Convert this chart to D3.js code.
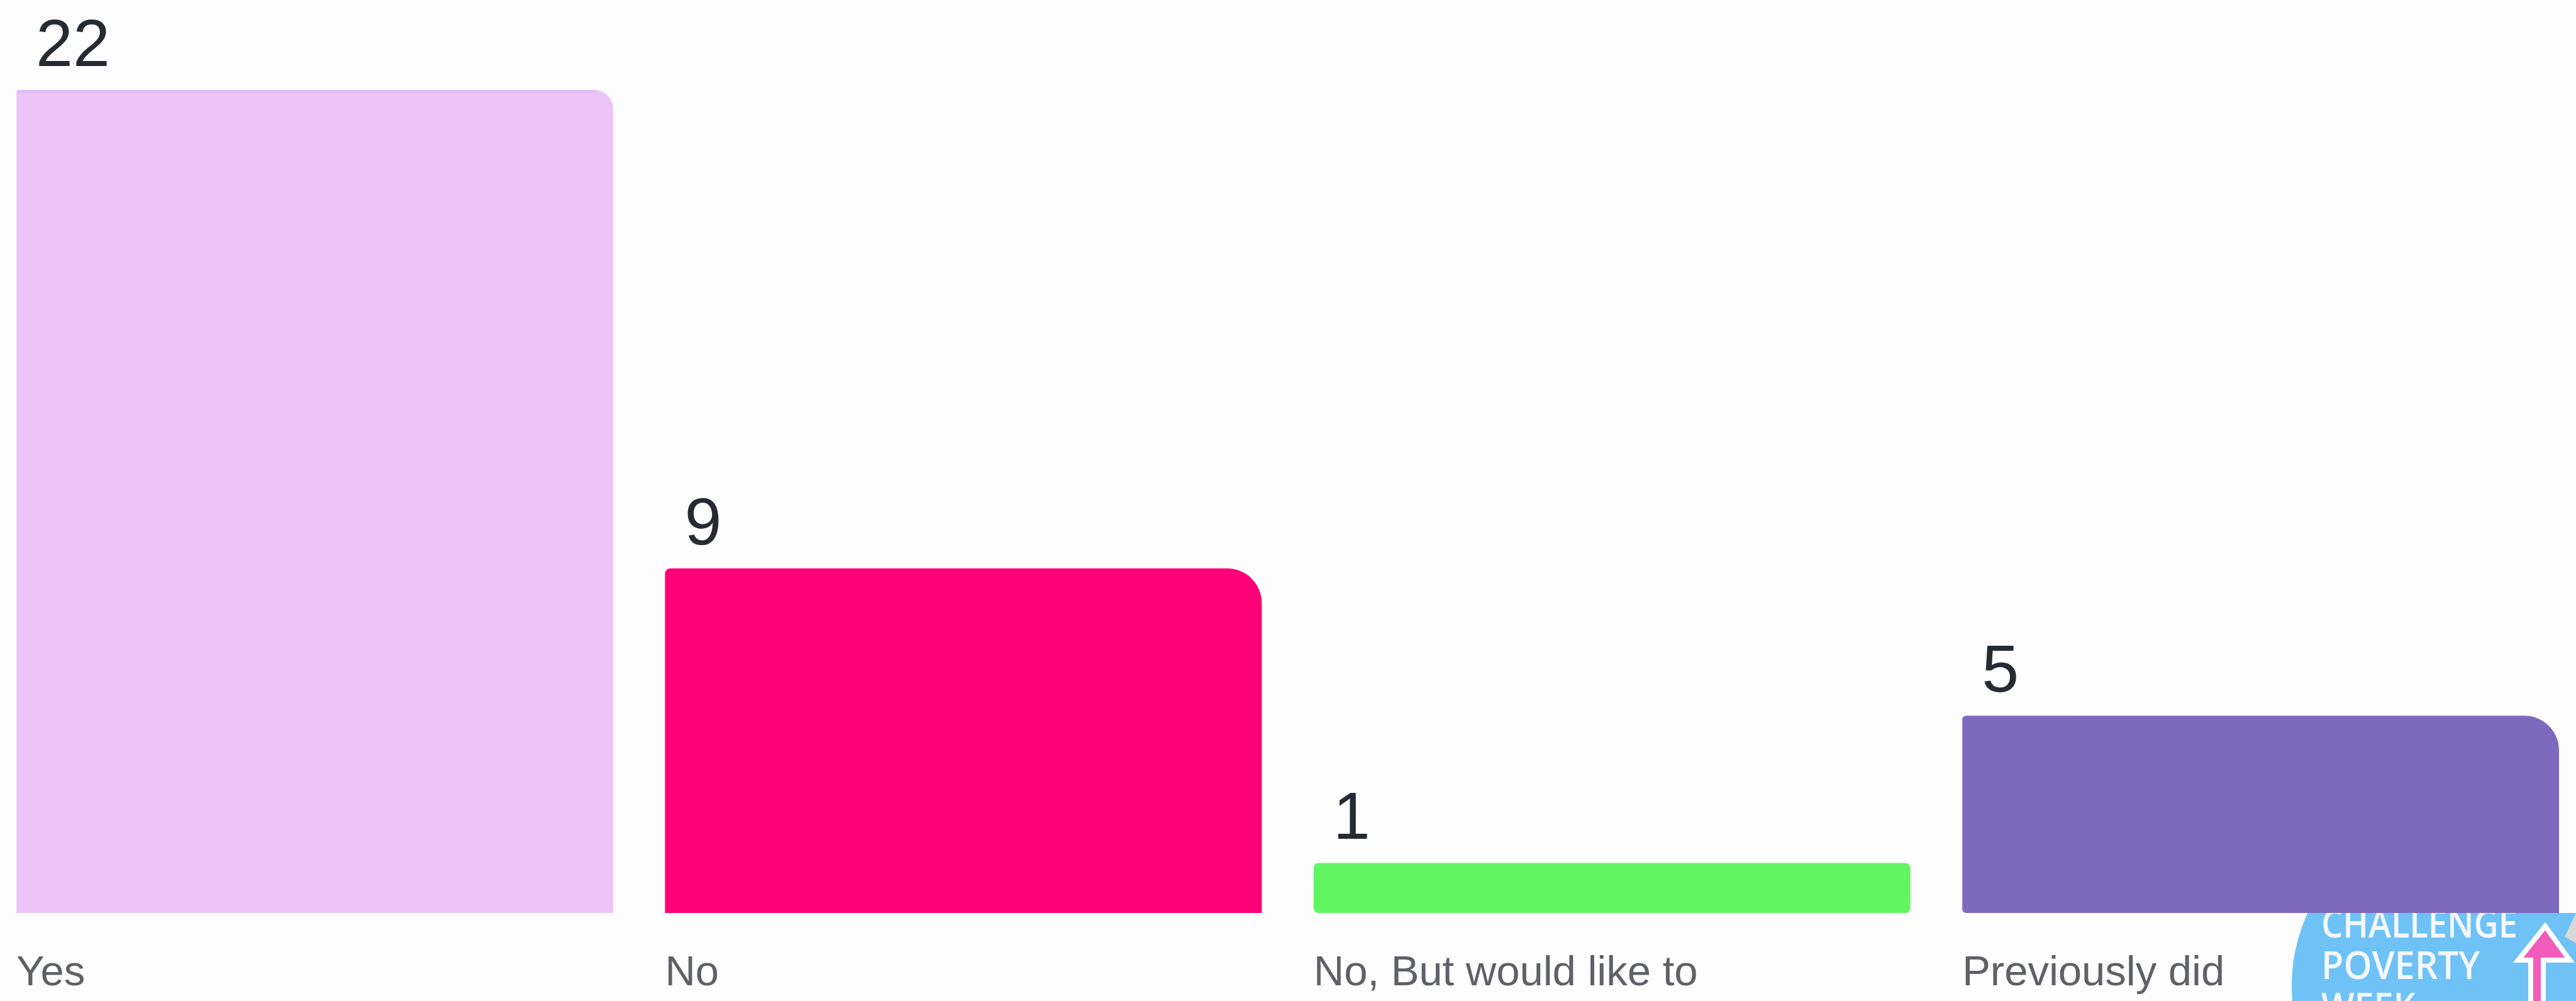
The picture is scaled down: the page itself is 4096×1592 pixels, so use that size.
<!DOCTYPE html>
<html><head><meta charset="utf-8">
<script src="https://cdn.jsdelivr.net/npm/d3@7"></script>
<style>html,body{margin:0;padding:0;background:#fdfdfd;overflow:hidden}</style>
</head><body><svg id="c" width="4096" height="1592"></svg>
<script>
// ---- data ----
const categories = ["Yes", "No", "No, But would like to", "Previously did"];
const values = [22, 9, 1, 5];
const barColors = ["#ECC4F8", "#FF0078", "#62F562", "#7F69BE"];
const logoLines = ["CHALLENGE", "POVERTY", "WEEK"];

// ---- layout ----
const W = 4096, H = 1592;
const svg = d3.select("#c");
svg.append("rect").attr("width", W).attr("height", H).attr("fill", "#fdfdfd");

const x = d3.scaleBand().domain(categories).range([26, 4069]).paddingInner(0.08).paddingOuter(0);
const y = d3.scaleLinear().domain([0, 22]).range([1431, 143]);
const baseline = 1452;

// corner radii [tl, tr, br, bl]
const radii = [[4, 30, 0, 0], [8, 55, 0, 0], [8, 8, 8, 8], [6, 55, 0, 6]];

function barPath(x0, y0, w, h, r) {
  const [tl, tr, br, bl] = r.map(v => Math.min(v, h / 2, w / 2));
  return `M${x0 + tl},${y0}H${x0 + w - tr}` +
    (tr ? `A${tr},${tr} 0 0 1 ${x0 + w},${y0 + tr}` : "") +
    `V${y0 + h - br}` +
    (br ? `A${br},${br} 0 0 1 ${x0 + w - br},${y0 + h}` : "") +
    `H${x0 + bl}` +
    (bl ? `A${bl},${bl} 0 0 1 ${x0},${y0 + h - bl}` : "") +
    `V${y0 + tl}` +
    (tl ? `A${tl},${tl} 0 0 1 ${x0 + tl},${y0}` : "") + "Z";
}

// ---- logo (behind, visible below bars) ----
const defs = svg.append("defs");
defs.append("clipPath").attr("id", "logoClip").append("rect")
  .attr("x", 3500).attr("y", baseline).attr("width", 700).attr("height", 200);
const logo = svg.append("g").attr("clip-path", "url(#logoClip)");
logo.append("circle").attr("cx", 3918).attr("cy", 1567).attr("r", 274).attr("fill", "#6EC2F6");
const lineBase = [1491, 1557, 1623];
const lineLen = [312, 252, 150];
logo.selectAll("text.logo").data(logoLines).join("text")
  .attr("class", "logo")
  .attr("x", 3691)
  .attr("y", (d, i) => lineBase[i])
  .attr("textLength", (d, i) => lineLen[i])
  .attr("lengthAdjust", "spacingAndGlyphs")
  .attr("font-family", "'Open Sans', sans-serif")
  .attr("font-weight", 600)
  .attr("font-size", 61)
  .attr("fill", "#F4F8FB")
  .text(d => d);
// pink arrow with white outline
const arrow = "M4047,1473 L4086,1527 L4044,1527 L4044,1600 L4024,1600 L4024,1527 L4004,1527 Z";
logo.append("path").attr("d", arrow).attr("fill", "#F25CBB")
  .attr("stroke", "#ffffff").attr("stroke-width", 8).attr("stroke-linejoin", "miter");
logo.append("path").attr("d", "M4096,1452 L4078,1490 L4096,1500 Z").attr("fill", "#D8D8D8");

// ---- bars ----
svg.selectAll("path.bar").data(values).join("path")
  .attr("class", "bar")
  .attr("d", (d, i) => barPath(x(categories[i]), y(d), x.bandwidth(), baseline - y(d), radii[i]))
  .attr("fill", (d, i) => barColors[i]);

// subtle top edge on the first bar
svg.append("rect").attr("x", x(categories[0]) + 2).attr("y", y(values[0]))
  .attr("width", x.bandwidth() - 30).attr("height", 5).attr("fill", "#E2BBF2");

// ---- value labels ----
svg.selectAll("text.val").data(values).join("text")
  .attr("class", "val")
  .attr("x", (d, i) => x(categories[i]) + 31)
  .attr("y", d => y(d) - 38)
  .attr("font-family", "'Liberation Sans', Arial, sans-serif")
  .attr("font-size", 106)
  .attr("fill", "#262A33")
  .text(d => d);

// ---- category labels ----
svg.selectAll("text.cat").data(categories).join("text")
  .attr("class", "cat")
  .attr("x", d => x(d))
  .attr("y", 1567)
  .attr("font-family", "'Liberation Sans', Arial, sans-serif")
  .attr("font-size", 67)
  .attr("fill", "#5F6166")
  .text(d => d);
</script></body></html>
